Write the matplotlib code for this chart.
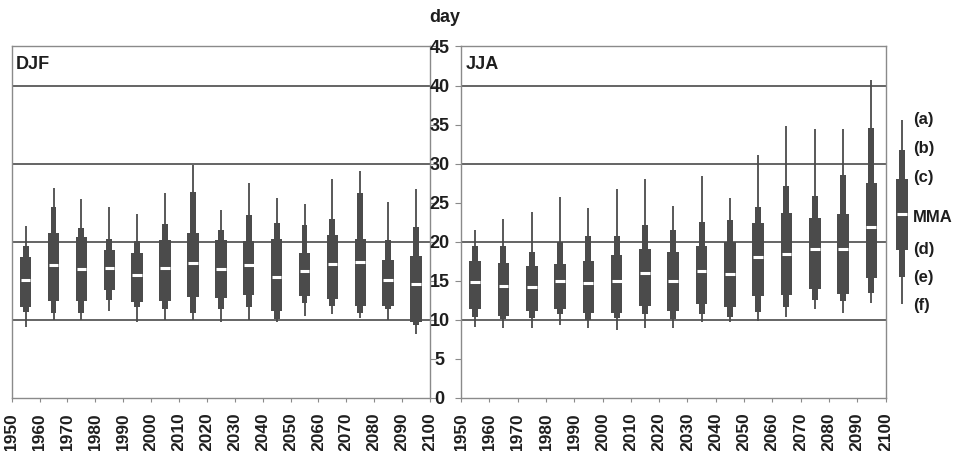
import matplotlib
matplotlib.use("Agg")
import matplotlib.pyplot as plt
import numpy as np

plt.rcParams['font.family'] = ['Liberation Sans', 'DejaVu Sans']
plt.rcParams['font.weight'] = 'bold'

# Decade centres (1950s ... 2090s)
decades = [1955, 1965, 1975, 1985, 1995, 2005, 2015, 2025,
           2035, 2045, 2055, 2065, 2075, 2085, 2095]

# DJF statistics per decade: (a) max, (b) upper, (c) upper quartile,
# MMA median, (d) lower quartile, (e) lower, (f) min
djf_a = [22.0, 26.9, 25.5, 24.5, 23.5, 26.2, 29.8, 24.1, 27.5, 25.6, 24.9, 28.0, 29.1, 25.1, 26.7]
djf_b = [19.5, 24.5, 21.8, 20.4, 20.1, 22.3, 26.4, 21.5, 23.4, 22.4, 22.1, 22.9, 26.3, 20.2, 21.9]
djf_c = [18.0, 21.1, 20.6, 19.0, 18.5, 20.2, 21.1, 20.2, 20.1, 20.3, 18.6, 20.9, 20.4, 17.7, 18.2]
djf_m = [15.1, 17.0, 16.5, 16.6, 15.7, 16.6, 17.3, 16.5, 17.0, 15.5, 16.3, 17.2, 17.4, 15.1, 14.6]
djf_d = [11.6, 12.4, 12.4, 13.8, 12.3, 12.4, 12.9, 12.8, 13.2, 11.2, 13.1, 12.7, 11.8, 11.8, 9.7]
djf_e = [11.0, 10.9, 10.9, 12.6, 11.6, 11.4, 10.9, 11.4, 11.6, 10.1, 12.1, 11.8, 10.9, 11.4, 9.4]
djf_f = [9.1, 10.0, 10.0, 11.2, 9.7, 10.0, 10.0, 9.7, 10.0, 9.7, 10.5, 10.7, 10.3, 10.0, 8.2]

# JJA statistics per decade
jja_a = [21.5, 22.9, 23.8, 25.7, 24.3, 26.8, 28.0, 24.6, 28.4, 25.6, 31.1, 34.8, 34.5, 34.4, 40.7]
jja_b = [19.4, 19.4, 18.7, 20.0, 20.8, 20.7, 22.1, 21.5, 22.5, 22.8, 24.5, 27.1, 25.9, 28.5, 34.6]
jja_c = [17.5, 17.3, 16.9, 17.2, 17.5, 18.3, 19.1, 18.7, 19.5, 20.0, 22.4, 23.7, 23.1, 23.5, 27.5]
jja_m = [14.8, 14.3, 14.2, 15.0, 14.7, 15.0, 16.0, 15.0, 16.2, 15.9, 18.0, 18.4, 19.1, 19.1, 21.9]
jja_d = [11.4, 10.5, 11.1, 11.4, 10.9, 10.9, 11.8, 11.1, 12.0, 11.7, 13.0, 13.2, 14.0, 13.3, 15.4]
jja_e = [10.4, 10.1, 10.2, 10.7, 10.0, 10.2, 10.8, 10.1, 10.7, 10.4, 11.0, 11.6, 12.6, 12.4, 13.5]
jja_f = [9.1, 8.9, 8.9, 9.4, 8.9, 8.7, 9.0, 8.9, 9.7, 9.7, 9.9, 10.4, 11.4, 10.9, 12.2]

# Key glyph values and labels
key_values = [35.6, 31.8, 28.0, 23.6, 18.9, 15.5, 12.0]
key_labels = ['(a)', '(b)', '(c)', 'MMA', '(d)', '(e)', '(f)']

year_ticks = list(range(1950, 2101, 10))
day_ticks = list(range(0, 46, 5))
grid_days = [10, 20, 30, 40]

BOX = '#4b4b4b'
GRID = '#4a4a4a'
SPINE = '#8a8a8a'
TXT = '#1e1e1e'

W, H = 955, 451
fig = plt.figure(figsize=(W / 100, H / 100), dpi=100)
fig.patch.set_facecolor('white')

bottom_px, top_px = 398, 46.5
ax_bottom = 1 - bottom_px / H
ax_height = (bottom_px - top_px) / H


def add_panel(x0, x1):
    return fig.add_axes([x0 / W, ax_bottom, (x1 - x0) / W, ax_height])


def draw_boxes(ax, a, b, c, m, d, e, f, wide=4.1, mid=2.1):
    x = np.array(decades, dtype=float)
    a, b, c, m, d, e, f = map(np.asarray, (a, b, c, m, d, e, f))
    ax.vlines(x, f, a, color=BOX, lw=1.3, zorder=3)
    ax.bar(x, b - e, bottom=e, width=mid, color=BOX, zorder=4, linewidth=0)
    ax.bar(x, c - d, bottom=d, width=wide, color=BOX, zorder=5, linewidth=0)
    ax.hlines(m, x - wide * 0.42, x + wide * 0.42, color='white', lw=2.2, zorder=6)


def style_panel(ax, title, side):
    ax.set_xlim(1950, 2100)
    ax.set_ylim(0, 45)
    for s in ax.spines.values():
        s.set_color(SPINE)
        s.set_linewidth(1.0)
    for g in grid_days:
        ax.axhline(g, color=GRID, lw=1.2, zorder=1)
    ax.set_xticks(year_ticks)
    ax.set_xticklabels([str(y) for y in year_ticks], rotation=90,
                       fontsize=12.5, fontweight='bold', color=TXT)
    ax.tick_params(axis='x', length=3, color=SPINE, pad=7)
    ax.set_yticks(day_ticks)
    if side == 'right':
        ax.yaxis.tick_right()
        ax.tick_params(axis='y', length=4, color=SPINE, labelright=False)
    else:
        ax.tick_params(axis='y', length=4, color=SPINE, pad=11.5)
        ax.set_yticklabels([str(t) for t in day_ticks], fontsize=13,
                           fontweight='bold', color=TXT, ha='center')
    ax.text(0.01, 0.972, title, transform=ax.transAxes, ha='left', va='top',
            fontsize=13, fontweight='bold', color=TXT)


ax_djf = add_panel(11.7, 430)
ax_jja = add_panel(461, 885.5)

draw_boxes(ax_djf, djf_a, djf_b, djf_c, djf_m, djf_d, djf_e, djf_f)
draw_boxes(ax_jja, jja_a, jja_b, jja_c, jja_m, jja_d, jja_e, jja_f)
style_panel(ax_djf, 'DJF', 'right')
style_panel(ax_jja, 'JJA', 'left')

fig.text(445 / W, 1 - 17.5 / H, 'day', ha='center', va='center',
         fontsize=13, fontweight='bold', color=TXT)

# Key glyph at the right side, sharing the day scale
ax_key = fig.add_axes([890 / W, ax_bottom, 65 / W, ax_height])
ax_key.set_xlim(0, 65)
ax_key.set_ylim(0, 45)
ax_key.axis('off')
ka, kb, kc, km, kd, ke, kf = key_values
kx = 11.7
ax_key.vlines(kx, kf, ka, color=BOX, lw=1.3)
ax_key.bar(kx, kb - ke, bottom=ke, width=6, color=BOX, linewidth=0)
ax_key.bar(kx, kc - kd, bottom=kd, width=12, color=BOX, linewidth=0)
ax_key.hlines(km, kx - 5, kx + 5, color='white', lw=2.2, zorder=5)
label_y = [35.6, 32.0, 28.2, 23.1, 19.0, 15.4, 11.8]
for ly, lab in zip(label_y, key_labels):
    ax_key.text(23, ly, lab, ha='left', va='center', fontsize=12,
                fontweight='bold', color=TXT)

fig.savefig('out.png', dpi=100, facecolor='white')
